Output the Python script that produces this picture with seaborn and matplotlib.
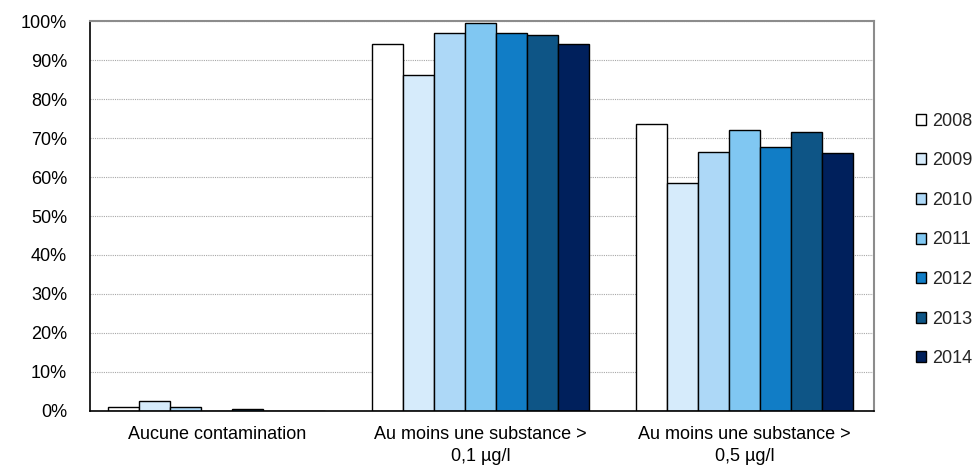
import pandas as pd
import matplotlib.pyplot as plt
import seaborn as sns

# Data (% of points)
categories = ["Aucune contamination",
              "Au moins une substance >\n0,1 µg/l",
              "Au moins une substance >\n0,5 µg/l"]
years = ["2008", "2009", "2010", "2011", "2012", "2013", "2014"]
v2008 = [1.0, 94.2, 73.6]
v2009 = [2.6, 86.2, 58.4]
v2010 = [0.9, 96.9, 66.5]
v2011 = [0.0, 99.5, 72.1]
v2012 = [0.6, 96.9, 67.8]
v2013 = [0.0, 96.4, 71.6]
v2014 = [0.0, 94.0, 66.1]
colors = ["#FFFFFF", "#D6EBFB", "#ADD8F7", "#80C7F2", "#117DC6", "#0E5586", "#00205C"]

series = [v2008, v2009, v2010, v2011, v2012, v2013, v2014]
rows = []
for y, vals in zip(years, series):
    for c, v in zip(categories, vals):
        rows.append({"cat": c, "year": y, "val": v})
df = pd.DataFrame(rows)

sns.set_style("white")
plt.rcParams['font.family'] = ['Liberation Sans', 'DejaVu Sans']

fig = plt.figure(figsize=(9.8, 4.71), dpi=100)
ax = fig.add_axes([0.0918, 0.1274, 0.8002, 0.828])

sns.barplot(data=df, x="cat", y="val", hue="year", palette=colors,
            width=0.823, gap=0, edgecolor="black", linewidth=1.0,
            saturation=1, ax=ax)

ax.set_xlim(-0.481, 2.492)
ax.set_ylim(0, 100)
ax.set_yticks(range(0, 101, 10))
ax.set_yticklabels([f"{t}%" for t in range(0, 101, 10)])
ax.yaxis.grid(True, color="#A8A8A8", linestyle=(0, (1, 1)), linewidth=0.8)
ax.set_axisbelow(True)
ax.tick_params(axis="both", length=0, labelsize=13, colors="black")
ax.tick_params(axis="y", pad=16.5)
ax.tick_params(axis="x", pad=11)
for lbl in ax.get_xticklabels():
    lbl.set_linespacing(1.35)
ax.set_xlabel("")
ax.set_ylabel("")

for s in ["top", "right"]:
    ax.spines[s].set_color("#8C8C8C")
    ax.spines[s].set_linewidth(1.5)
for s in ["left", "bottom"]:
    ax.spines[s].set_color("black")
    ax.spines[s].set_linewidth(1.2)

handles, labels = ax.get_legend_handles_labels()
ax.legend(handles, labels, loc="center left",
          bbox_to_anchor=(916 / 980, 1 - 240 / 471), bbox_transform=fig.transFigure,
          frameon=False, fontsize=13, handlelength=0.56, handleheight=0.56,
          handletextpad=0.33, labelspacing=1.25, borderpad=0, borderaxespad=0)

fig.savefig("out.png", dpi=100)
